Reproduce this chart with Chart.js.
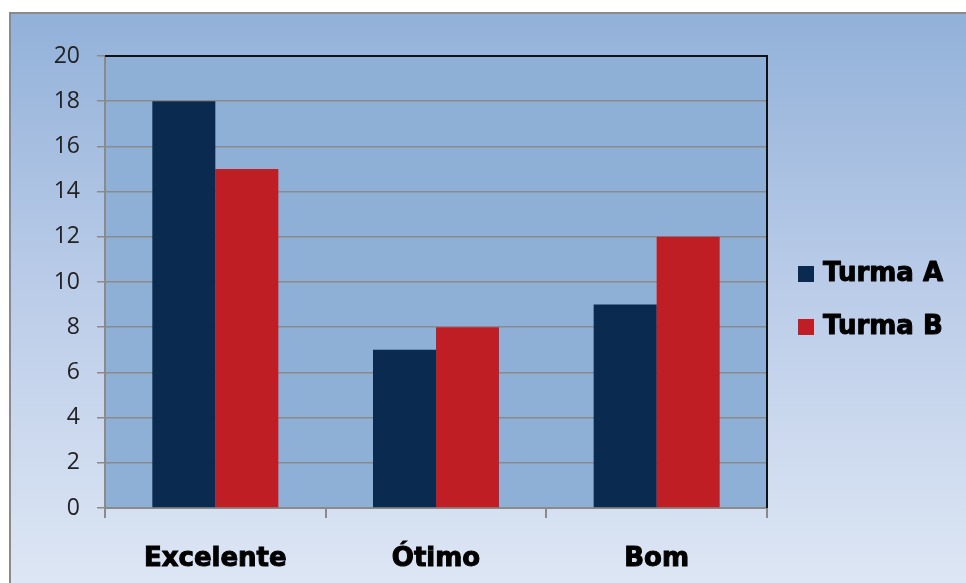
<!DOCTYPE html>
<html>
<head>
<meta charset="utf-8">
<script src="https://cdn.jsdelivr.net/npm/chart.js@4/dist/chart.umd.min.js"></script>
<style>
  html, body { margin: 0; padding: 0; background: #ffffff; }
  #wrap { width: 966px; height: 583px; position: relative; }
</style>
</head>
<body>
<div id="wrap"><canvas id="c" width="966" height="583"></canvas></div>
<script>
const categories = ['Excelente', 'Ótimo', 'Bom'];
const turmaA = [18, 7, 9];
const turmaB = [15, 8, 12];
const seriesNames = ['Turma A', 'Turma B'];
const yTicks = [0, 2, 4, 6, 8, 10, 12, 14, 16, 18, 20];

const navy = '#0a2a4f';
const red = '#be1e24';
const heavyFont = '"DejaVu Sans", sans-serif';

// Panel background, plot fill and the shadowed plot frame
const backdrop = {
  id: 'backdrop',
  beforeDraw(chart) {
    const ctx = chart.ctx;
    const a = chart.chartArea;
    ctx.save();
    const g = ctx.createLinearGradient(0, 13, 0, 583);
    g.addColorStop(0, '#92b1d9');
    g.addColorStop(0.5, '#bccde9');
    g.addColorStop(1, '#dde6f4');
    ctx.fillStyle = g;
    ctx.fillRect(10, 13, 956, 570);
    ctx.strokeStyle = '#8a8a8a';
    ctx.lineWidth = 2;
    ctx.beginPath();
    ctx.moveTo(10, 583);
    ctx.lineTo(10, 13);
    ctx.lineTo(966, 13);
    ctx.stroke();
    ctx.fillStyle = '#8eb0d7';
    ctx.fillRect(a.left, a.top, a.right - a.left, a.bottom - a.top);
    ctx.restore();
  },
  afterDraw(chart) {
    const ctx = chart.ctx;
    const a = chart.chartArea;
    ctx.save();
    ctx.strokeStyle = '#111111';
    ctx.lineWidth = 2;
    ctx.beginPath();
    ctx.moveTo(a.left, a.top);
    ctx.lineTo(a.right, a.top);
    ctx.lineTo(a.right, a.bottom);
    ctx.stroke();
    // legend on the right
    const items = chart.data.datasets;
    const x0 = 798, ys = [274, 327];
    ctx.font = 'bold 26px ' + heavyFont;
    ctx.textBaseline = 'middle';
    ctx.lineJoin = 'round';
    items.forEach((ds, i) => {
      ctx.fillStyle = ds.backgroundColor;
      ctx.fillRect(x0, ys[i] - 8, 16, 16);
      ctx.fillStyle = '#000000';
      ctx.strokeStyle = '#000000';
      ctx.lineWidth = 1;
      ctx.strokeText(ds.label, x0 + 25, ys[i]);
      ctx.fillText(ds.label, x0 + 25, ys[i]);
    });
    ctx.restore();
  }
};

new Chart(document.getElementById('c'), {
  type: 'bar',
  data: {
    labels: categories,
    datasets: [
      { label: seriesNames[0], data: turmaA, backgroundColor: navy },
      { label: seriesNames[1], data: turmaB, backgroundColor: red }
    ]
  },
  options: {
    responsive: false,
    animation: false,
    devicePixelRatio: 1,
    layout: { padding: { top: 56, right: 199, left: 0, bottom: 0 } },
    plugins: {
      legend: { display: false },
      tooltip: { enabled: false }
    },
    datasets: { bar: { categoryPercentage: 0.571, barPercentage: 1.0 } },
    scales: {
      x: {
        afterFit(s) { s.height = 75; },
        grid: {
          drawOnChartArea: false,
          drawTicks: true,
          tickLength: 10,
          offset: true,
          color: '#8a8a8a',
          lineWidth: 2
        },
        border: { color: '#8a8a8a', width: 2 },
        ticks: {
          color: '#000000',
          padding: 26,
          textStrokeColor: '#000000',
          textStrokeWidth: 1,
          font: { family: heavyFont, size: 26, weight: 'bold' }
        }
      },
      y: {
        min: 0,
        max: 20,
        afterFit(s) { s.width = 105; },
        afterBuildTicks(s) { s.ticks = yTicks.map(v => ({ value: v })); },
        grid: {
          color: '#8a8a8a',
          lineWidth: 1.5,
          tickLength: 8
        },
        border: { color: '#8a8a8a', width: 2 },
        ticks: {
          color: '#222222',
          padding: 17,
          font: { family: '"Open Sans", sans-serif', size: 23 }
        }
      }
    }
  },
  plugins: [backdrop]
});
</script>
</body>
</html>
